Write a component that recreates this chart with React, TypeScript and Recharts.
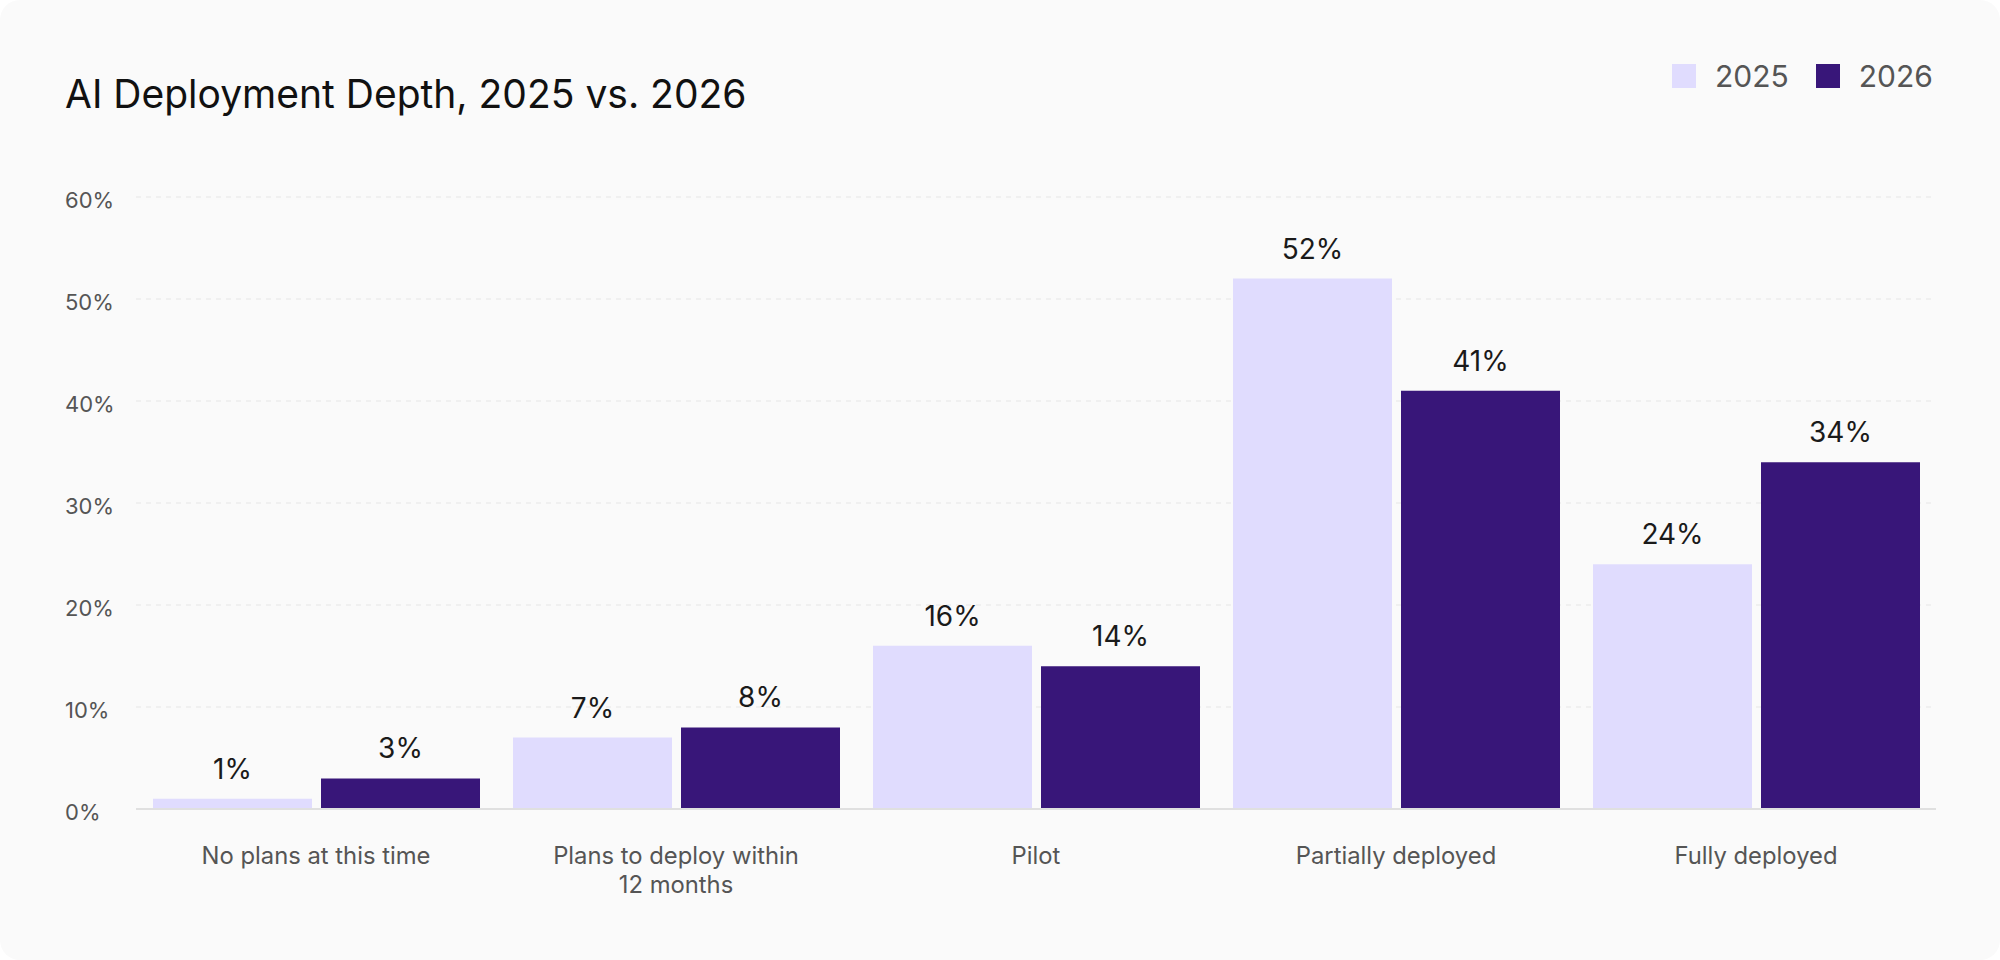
import React from "react";
import { BarChart, Bar, XAxis, YAxis, CartesianGrid, LabelList } from "recharts";

const categories = [
  "No plans at this time",
  "Plans to deploy within\n12 months",
  "Pilot",
  "Partially deployed",
  "Fully deployed",
];
const values2025 = [1, 7, 16, 52, 24];
const values2026 = [3, 8, 14, 41, 34];
const yTicks = [0, 10, 20, 30, 40, 50, 60];

const series = [
  { key: "y2025", name: "2025", color: "#e0dcfe" },
  { key: "y2026", name: "2026", color: "#381679" },
];

const FONT = "Inter, 'Noto Sans', sans-serif";

const data = categories.map((c, i) => ({
  name: c,
  y2025: values2025[i],
  y2026: values2026[i],
}));

function YTick({ y, payload }: any) {
  return (
    <text x={65} y={y + 11} fill="#555" fontSize={22} fontFamily={FONT} textAnchor="start">
      {payload.value}%
    </text>
  );
}

// category names wrap on "\n"
function XTick({ x, y, payload }: any) {
  const lines = String(payload.value).split("\n");
  return (
    <text x={x} y={y} fill="#555" fontSize={23.8} fontFamily={FONT} textAnchor="middle">
      {lines.map((l, i) => (
        <tspan key={i} x={x} dy={i === 0 ? 55 : 29}>{l}</tspan>
      ))}
    </text>
  );
}

export default function App() {
  return (
    <div style={{ position: "absolute", left: 0, top: 0, width: 2000, height: 960, background: "#fff" }}>
      <div style={{ position: "absolute", inset: 0, background: "#fafafa", borderRadius: 20, overflow: "hidden" }}>
        <div style={{ position: "absolute", left: 65, top: 74, fontSize: 39, lineHeight: 1, color: "#111", fontFamily: FONT, whiteSpace: "nowrap" }}>
          AI Deployment Depth, 2025 vs. 2026
        </div>
        <div style={{ position: "absolute", left: 1672, top: 61, display: "flex", alignItems: "center", fontFamily: FONT }}>
          {series.map((s, i) => (
            <div key={s.key} style={{ display: "flex", alignItems: "center", marginLeft: i === 0 ? 0 : 27 }}>
              <div style={{ width: 24, height: 24, background: s.color }} />
              <span style={{ marginLeft: 19, fontSize: 30, lineHeight: "30px", color: "#555" }}>{s.name}</span>
            </div>
          ))}
        </div>
        <BarChart
          width={2000}
          height={960}
          data={data}
          margin={{ top: 197, right: 64, bottom: 0, left: 0 }}
          barCategoryGap={17}
          barGap={9}
          style={{ position: "absolute", left: 0, top: 0 }}
        >
          <CartesianGrid vertical={false} stroke="#e6e6e6" strokeDasharray="5 5" />
          <YAxis
            width={136}
            domain={[0, 60]}
            ticks={yTicks}
            axisLine={false}
            tickLine={false}
            tick={<YTick />}
          />
          <XAxis
            dataKey="name"
            height={151}
            axisLine={{ stroke: "#e0e0e0", strokeWidth: 2 }}
            tickLine={false}
            tickSize={0}
            tickMargin={0}
            interval={0}
            tick={<XTick />}
          />
          {series.map((s) => (
            <Bar key={s.key} dataKey={s.key} name={s.name} fill={s.color} isAnimationActive={false}>
              <LabelList
                dataKey={s.key}
                position="top"
                offset={20}
                fill="#1a1a1a"
                fontSize={28}
                fontFamily={FONT}
                formatter={(v: number) => `${v}%`}
              />
            </Bar>
          ))}
        </BarChart>
      </div>
    </div>
  );
}
